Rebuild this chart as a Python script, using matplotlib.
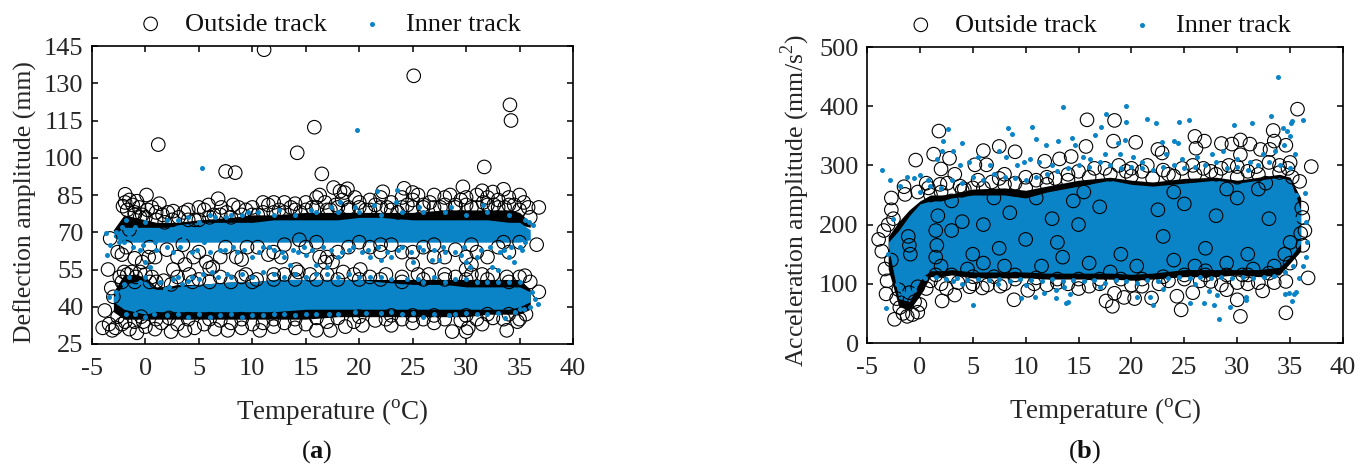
import matplotlib
matplotlib.use('Agg')
import matplotlib.pyplot as plt

plt.rcParams['font.family'] = ['Liberation Serif', 'DejaVu Serif']
plt.rcParams['mathtext.fontset'] = 'custom'
plt.rcParams['mathtext.rm'] = 'Liberation Serif'
plt.rcParams['mathtext.bf'] = 'Liberation Serif:bold'
plt.rcParams['axes.unicode_minus'] = False

BLUE = '#0a84c6'
TEXT = '#262626'

# Points, (temperature, amplitude)
a_outer = [
    (11.1,143.5),(25.1,133),(34.1,121.3),(34.2,115),(15.8,112.3),(1.2,105.3),(14.2,102),(31.7,96.3),(7.5,94.5),(8.4,94),
    (16.5,93.5),(17.6,88),(18.9,87.5),(18.2,86.5),(18.6,86),(0.1,85),(-1.9,85.3),(6.8,83.5),(29.7,88.3),(24.2,87.7),
    (33.5,87.3),(31.5,86.7),(32.5,86.2),(22.2,86.3),(25,86),
    (-2.1,80.5),(-1.9,82),(-1.7,79),(-1.5,83),(-1.2,81),(-1,78),(-0.8,82.5),(-0.6,80),(-0.3,77),(0.2,79),(0.6,80),(1,78),
    (1.3,81.5),(1.6,77),(2.1,78),(2.6,78.5),(3.1,76),(3.6,78),(4,79),(4.6,75),(5,80),(5.5,79),(5.9,81),(6.4,77),(7.1,80),
    (7.6,78),(8.2,81),(8.7,80),(9.4,79),(10,80),(10.5,77),(11,82),(11.5,81),(12,82),(12.5,79),(13,82),(13.6,80),(14,81.5),
    (14.5,78),(15,82),(15.6,80),(16,84),(16.3,85),(16.8,82),(17.3,79),(17.8,81),(18.4,83),(19,80),(19.6,84),(20,82),
    (20.6,79),(21,83),(21.5,81),(22,84),(22.6,80),(23,82),(23.6,78),(24,84),(24.5,81),(25,83),(25.5,85),(26,80),(26.6,82),
    (27,85),(27.6,80),(28,84),(28.5,85),(29,81),(29.5,83),(30,84),(30.5,80),(31,85),(31.6,82),(32,84),(32.6,81),(33,83),
    (33.6,80),(34,84),(34.5,81),(35,85),(35.4,82),(35.8,80),(36.8,80),
    (-3.3,67.5),(-2.6,62),(-2.2,61),(-1.8,64),(-1,59.5),(-0.3,58),(0.3,60),(0.9,60),(2,63),(3,60),(4.5,60),(5,62),(5.7,58),
    (6,55.5),(6.3,56),(7,60),(8.5,60),(9,59),(9.5,64),(10.5,64),(11.5,61),(12,62),(12.7,60),(14.4,67),(15,64),(16.3,60),
    (16.8,58),(17,60),(17.5,58),(18,62),(19,64),(20,66),(21,64),(22,62),(23,65),(24,62),(25,62),(26,64),(27,60),(28,60),
    (29,63),(30,60),(30.5,57),(31,62),(32,60),(33,64),(34,62),(35,66),(36.6,65),
    (-3.5,55),(2.6,55),(3.7,57),(4.1,53),(1.7,50.5),(9.4,53),(14.1,55),(20.1,55),(25,57),(30,55),(35.5,52.5),(36.8,46),
    (-3.2,47.5),(-3,44),(-3.8,38.5),
    (-2.4,52),(-2,54),(-1.7,53),(-1.3,54),(-0.9,52),(-0.5,54),(0,53),(0.6,52),(1,50),(3,52),(5,51),(7,52),(9,52),(10.4,51),
    (12,53),(13,53),(14.3,54),(15.4,53),(17,53),(18.5,54),(19.5,53),(21,52),(22.5,53),(24,52),(25.5,53),(26.5,53),(28,53),
    (29,52),(30.5,53),(31.5,53),(32.5,53),(33.8,52),(35,52),(36,50),
    (-4,31.5),(-3.4,33),(-3.1,30.5),(-2.8,31.5),(-2.2,33),(-1.5,31),(-0.8,29.5),(0,32),(0.9,31),(2.4,30),(3.7,30.5),
    (4.6,31.5),(6.5,31),(7.7,30.5),(9,31.5),(10.7,30.5),(12,32),(14,31.5),(16,30.5),(17.3,30.5),(18.7,32),(20.3,32.5),
    (23,32.5),(25,33.5),(27,33.5),(28.7,30),(30,30),(30.2,31.5),(31.5,33),(33.8,30.5),(34.8,34),(35,35),
    (-2.6,36),(-1.9,34),(-1,34),(-0.2,34),(1.5,33.5),(3,33),(5.5,33),(8,33.5),(10,33),(11,33.5),(13,33.5),(15,33),(17,34),
    (19.5,34),(21.5,34.5),(22.5,35),(24,35),(26,35),(28,35),(29.5,34.5),(31,35),(32.5,35.5),(33.5,35),(35.6,37),
    (-1,77),(0,76),(1,75),(2.5,75),(4,75),(6,76),(8,76),(9,77),(11,78),(13,78),(15,79),(17,79),(19,79),(21,79),(23,79),
    (25,80),(27,80),(29,80),(31,80),(33,80),(35,79),(36,76),(-1.5,71),(0.4,64),(3.5,65),(7.5,64),(13,65),(16,66),(22,65),
    (27,65),(30.5,65),(33.5,66),
    (-0.4,36),(1,35),(2.2,35.5),(4,35),(6,35),(7,34.5),(9,35),(12,35),(14,35),(16,35.5),(18,35.5),(20,36),(23,36.5),(25,36.5),
    (27,36.5),(30,36.5),(32,37),(34,37),(-2.2,50),(-1,50),(0.4,50),(2.4,49),(4.4,50),(6,50),(8,50),(10,50),(12,51),(14,51),
    (16,51),(18,51),(20,51),(22,51),(24,50),(26,51),(28,51),(30,51),(32,51),(34,50),(-0.5,76),(1.8,74),(5,75),(7,77),(10,77),
    (12,78),(14,79),(16,80),(18,80),(20,80),(22,80),(24,80),(26,81),(28,81),(30,81),(32,81),(34,81),
]
a_inner = [
    (5.3,95.7),(19.8,111),(21.7,86.6),(23.5,87),(-3.7,69.5),(-3.6,61),(-3.3,65),(-2.8,70),(-2.5,66),(-2.2,72),(-1.8,75),
    (-1.5,68),(-1,72),(-0.5,63),(0,58),(0.4,56),(0.9,66),(1.5,70),(2,64),(3,75),(3.6,68),(4.4,62),(5,74),(5.5,66),(6.5,76),
    (7,63),(8,77),(8.6,62),(9.6,78),(10,60),(11,64),(12,63),(12.5,79),(13,60),(13.5,57),(14.3,62),(15,61),(15.5,79),
    (16,57),(16.6,64),(17,56),(17.4,80),(18,60),(18.2,82),(19,63),(19.6,80),(20.3,62),(21,60),(21.4,81),(22,59),(23,60),
    (23.4,82),(24,64),(25,58),(25.6,80),(26,63),(26.8,59),(27.5,59),(28,62),(28.6,80),(29.5,61),(30,58),(30.4,56),(31,60),
    (31.6,81),(32.4,56),(33,55),(33.5,63),(34,60),(34.5,58),(35,64),(35.5,66),(35.9,74),(36.3,73),
    (-3.4,44),(-2.8,46),(-2,49),(-1.5,52),(-1,46),(-0.5,50),(0,52),(1.2,39),(1.8,47),(2.6,51),(3.4,49),(4.4,52),(5.4,53),
    (6.2,54),(6.8,52),(7.6,53),(8,37),(9,53),(10,36.5),(11,54),(12,37),(13,52),(15,37),(16,53),(17.2,37),(18,52),(19.6,38),
    (21,52),(23,38),(24.5,51),(26,36),(27,52),(28.4,36.5),(30,51),(31,37),(32,50),(33.6,35.5),(34.6,38),(35.4,39),(36,40),
    (36.4,43),(36.7,41),(36.2,46),
    (-2,66),(-1.2,64),(-0.2,65),(1,63),(2.6,62),(3.2,64),(4.8,63),(6,62),(7.4,63),(8.2,64),(9.2,63),(10.6,62),(11.6,64),
    (12.8,62),(13.8,63),(14.8,64),(15.6,63),(17.4,63),(18.4,62),(19.4,64),(20.8,63),(21.8,64),(22.6,62),(23.6,63),(24.8,62),
    (25.6,64),(27,63),(27.8,64),(29,62),(29.8,64),(31.4,63),(32.2,64),(33.2,62),(34.2,64),(35.2,63),(0,74),(2,75),(4,76),
    (6,77),(7.5,76),(9,77),(10.5,78),(12,77),(14,77),(16,78),(18,78),(20,78),(22,77),(24,78),(26,78),(28,78),(30,77),(32,78),
    (34,77),(35.5,75),
    (-1.8,37),(-1,37),(0,36),(0.8,37),(2,36.5),(3,37),(4,36),(5,37),(6,36),(7,36.5),(9,36),(11,36.5),(13,37),(14,36.5),(16,37),
    (18,37),(20.6,37.5),(22,37.5),(24,37),(25,37.5),(27,37),(29,37),(30,37.5),(32,37),(33,37.5),(35,39),
    (1.4,50),(2.2,48),(3,52),(4,50.5),(5,51),(8,52),(10,52),(12,53),(14,53),(15,52),(17,53),(19,53),(20,52),(22,52),(23,51),
    (25.5,51),(26,50),(28,50),(29,51),(31,50),(33,50),(34,50),(35,50),
]
b_outer = [
    (35.7,395),(15.8,377),(18.4,376),(1.8,358),(26,349),(26.9,341),(30.3,343),(33.4,359),(33.5,341),(34.6,334),(31.2,336),
    (28.5,337),(29.5,336),(18.3,341),(20.4,339),(15.7,332),(7.5,332),(9,323),(6,325),(1.3,319),(-0.4,309),(2.8,312),(2,294),
    (5.2,301),(6.3,301),(11.8,307),(13.2,311),(14.3,315),(22.5,327),(22.9,321),(26.1,329),(32.2,327),(33.1,327),(30.3,318),
    (-2.7,245),(-1.5,264),(-1.4,251),(0.6,270),(1.9,268),(-2.7,225),(37,298),
    (2.1,71),(3.3,81),(2.5,92),(8.9,73),(17.6,71),(18.2,62),(19.3,77),(20.3,75),(21.9,76),(24.3,79),(24.7,56),(25.8,85),
    (30,73),(30.3,45),(34.6,51),(32.4,88),(36.7,110),(29,90),(18.4,84),(-2.4,40),(0.6,92),(15,92),(10.2,89),(4.7,95),(5.9,93),
    (-3.9,175),(-3.6,155),(-3.4,190),(-3.3,125),(-3.1,105),(-3.2,83),(-3,200),(-2.7,140),(-2.5,210),(-2.2,75),(-1.9,60),
    (-1.6,50),(-1.2,45),(-0.7,48),(-0.2,52),(0,65),(-0.5,70),(36,185),(36.2,165),(36.4,190),(36.1,228),(36.2,212),(35.9,273),
    (-1,165),(-0.9,150),(-1.1,180),(1.5,190),(1.6,165),(1.5,145),(1.7,215),(3,240),(4,205),(5,150),(6,135),(7.5,160),(8.5,220),
    (10,175),(11.5,130),(12.5,210),(13.5,145),(14.5,240),(16,135),(17,230),(20.5,130),(22.5,225),(24,140),(25,235),(27,160),
    (28,215),(29,135),(30.5,115),(31.5,125),(32,260),(33.5,130),(34.5,150),(23.5,285),(24.8,295),(27.5,290),(29.2,300),
    (31,290),(32.7,270),(34,300),(35,305),(20,295),(21.5,300),(16.5,295),(12,280),(10,280),(8,285),(4.2,260),(3.3,285),
    (-0.2,255),(0.8,262),(2.6,270),(3.8,265),(5.5,275),(6.8,272),(7.5,278),(9,270),(11,275),(12.8,278),(14,285),(15,290),
    (17.5,295),(18.8,300),(19.5,290),(21,290),(23,292),(25.8,300),(26.8,295),(28.5,295),(30,298),(31.8,298),(33,305),(34.8,295),
    (1,105),(2,100),(3.6,102),(5,100),(6.4,98),(7.6,96),(8,100),(10.8,100),(12,98),(13,102),(14,100),(16,96),(17,100),(20,98),
    (21,96),(22.6,100),(23.5,105),(25,108),(26.5,105),(27.5,104),(28.5,98),(30,102),(31,100),(32,102),(33.5,102),(34.6,104),
    (3,190),(6,200),(8,130),(11,245),(13,170),(15,200),(19,150),(23,180),(26,130),(29,260),(31,150),(33,210),(35,170),(2,130),
    (4.5,125),(9,115),(18,120),(27,122),(24,255),(30,245),(7,245),(15.5,255),
    (1,250),(2,255),(4,258),(5,262),(6,262),(8,268),(10,262),(12,268),(14,275),(16,280),(18,285),(20,282),(22,278),(24,282),
    (26,285),(28,285),(30,280),(32,285),(34,288),(35.2,280),(1.5,115),(3,115),(5,112),(7,112),(9,108),(11,110),(13,108),(15,108),
    (17,108),(19,108),(21,108),(23,112),(25,115),(27,115),(29,115),(31,115),(33,118),(35,135),(-2,90),(-1,85),(-0.2,95),
]
b_inner = [
    (33.9,450),(19.5,400),(13.5,398),(17.6,387),(19.5,373),(21.5,379),(22.3,371),(24.5,374),(25.4,377),(29.7,368),(31.4,372),
    (33.2,383),(34.3,363),(35.2,375),(36.2,377),(8.3,364),(8.7,353),(10.6,365),(11,344),(2.7,362),(2.2,342),(-3.6,293),
    (17.1,365),(16.6,352),(14.4,347),(13.1,341),(11.9,335),(4,338),(22.9,339),(24.4,338),(24,342),(34.7,358),(35,349),
    (35.1,372),(19.4,343),(18.7,338),
    (5,64),(9.6,76),(10.9,77),(12.9,76),(13.8,67),(14,70),(14.2,82),(20.5,77),(21.8,78),(22,64),(25.5,68),(26.9,68),(27.8,65),
    (28.3,41),(29.3,60),(28.1,81),(27.3,88),(30.8,72),(30.8,77),(34.5,83),(34.9,84),(35.2,71),(35.6,86),(-3.2,59),(35.4,82),
    (11.7,85),(12.9,89),(13.6,95),
    (-2.8,275),(-1.9,265),(-1.2,280),(-0.6,278),(0,283),(0.8,275),(1.6,310),(2.1,325),(3.1,325),(3.8,300),(4.6,305),(5.5,315),
    (6.6,300),(7.5,325),(8.1,315),(9.2,300),(9.8,305),(10.4,310),(11.3,305),(12.5,300),(14.7,335),(15.4,315),(16.1,310),
    (17.5,320),(18.9,320),(20.1,315),(21,305),(23.3,320),(24.8,310),(26.2,315),(27.6,320),(28.7,325),(30,310),(31.2,305),
    (32.4,320),(33.6,325),(34.4,335),(35.5,320),(36.4,253),(36.5,205),(36.6,170),(36.5,145),(36.2,130),(35.8,110),(3.1,105),
    (4,100),(7.4,100),(10,98),(17,95),(23,92),(26,100),(-2.5,210),(-3,150),(-2.2,100),(-1.6,85),(-0.6,90),
    (0,255),(1,265),(2,262),(3,275),(4,270),(5,280),(6,275),(7,285),(8,280),(9,278),(10,275),(11,280),(12,285),(13,290),(14,295),
    (15,300),(16,298),(17,305),(18,300),(19,295),(20,298),(21,295),(22,292),(23,298),(24,300),(25,295),(26,298),(27,300),(28,305),
    (29,295),(30,298),(31,292),(32,300),(33,305),(34,300),(35,295),(0.5,110),(1.5,112),(2.5,108),(3.5,110),(4.5,106),(5.5,108),
    (6.5,106),(7.5,108),(8.5,104),(9.5,108),(10.5,106),(11.5,104),(12.5,108),(13.5,104),(14.5,106),(15.5,104),(16.5,106),(17.5,102),
    (18.5,106),(19.5,104),(20.5,102),(21.5,106),(22.5,104),(23.5,110),(24.5,112),(25.5,110),(26.5,112),(27.5,110),(28.5,112),
    (29.5,110),(30.5,112),(31.5,110),(32.5,112),(33.5,114),(34.5,120),(35.3,130),(35.6,250),(35.5,210),
]

temp_grid = [-3, -2, -1, 0, 1, 2, 3, 5, 8, 10, 12, 15, 18, 20, 22, 25, 28, 30, 32, 34, 35, 36]

# Parts of the clouds so saturated that single points cannot be read: edges only
a_low_black_lo = [38, 35, 35, 35, 35, 35, 35, 35, 35, 35, 35, 35, 36, 36, 36, 36, 36, 36, 37, 37, 37, 39]
a_low_black_hi = [46, 53, 53, 52, 48, 48, 49, 49, 50, 50, 51, 51, 51, 51, 51, 51, 51, 51, 51, 51, 51, 47]
a_low_blue_lo = [42, 39, 38, 37, 38, 38, 38, 38, 38, 38, 38, 39, 39, 39, 39, 39, 39, 39, 39, 39, 40, 42]
a_low_blue_hi = [44, 49, 50, 51, 47, 47, 48, 49, 50, 50, 51, 51, 51, 51, 50, 49, 49, 48, 48, 48, 48, 46]
a_up_black_lo = [70, 70, 70, 70, 70, 70, 71, 71, 72, 72, 72, 73, 73, 73, 73, 73, 73, 73, 73, 73, 73, 72]
a_up_black_hi = [71, 77, 76, 75, 74, 74, 74, 75, 76, 77, 77, 78, 78, 78, 78, 78, 79, 79, 79, 79, 78, 74]
a_up_blue_lo = [68, 66, 66, 66, 66, 66, 66, 66, 66, 66, 66, 66, 66, 66, 66, 66, 66, 66, 66, 66, 66, 67]
a_up_blue_hi = [69, 72, 72, 72, 72, 72, 73, 74, 74, 74, 75, 75, 75, 76, 76, 75, 75, 75, 75, 74, 74, 71]
b_black_lo = [125, 62, 55, 80, 112, 112, 115, 110, 110, 110, 108, 108, 108, 106, 108, 112, 112, 115, 112, 115, 135, 155]
b_black_hi = [180, 205, 225, 240, 250, 250, 252, 260, 262, 258, 265, 275, 280, 275, 272, 278, 280, 275, 280, 285, 280, 245]
b_blue_lo = [165, 75, 70, 105, 122, 122, 124, 120, 120, 120, 118, 118, 118, 116, 118, 124, 124, 124, 124, 128, 145, 168]
b_blue_hi = [170, 190, 215, 235, 240, 240, 245, 250, 250, 245, 255, 265, 275, 268, 265, 270, 275, 270, 275, 280, 275, 225]

x_ticks = [-5, 0, 5, 10, 15, 20, 25, 30, 35, 40]
a_ticks = [25, 40, 55, 70, 85, 100, 115, 130, 145]
b_ticks = [0, 100, 200, 300, 400, 500]


def draw_panel(ax, outer, inner, black_bands, blue_bands, y_ticks, y_label, legend_x, label_y):
    for lo, hi in black_bands:
        ax.fill_between(temp_grid, lo, hi, color='black', lw=0, zorder=1)
    for lo, hi in blue_bands:
        ax.fill_between(temp_grid, lo, hi, color=BLUE, lw=0, zorder=2)
    ox, oy = zip(*outer)
    ix, iy = zip(*inner)
    ax.scatter(ox, oy, s=95, facecolors='none', edgecolors='black', linewidths=0.8,
               zorder=3, label='Outside track')
    ax.scatter(ix, iy, s=13, color=BLUE, linewidths=0, zorder=4, label='Inner track')
    ax.set_xlim(-5, 40)
    ax.set_ylim(y_ticks[0], y_ticks[-1])
    ax.set_xticks(x_ticks)
    ax.set_yticks(y_ticks)
    ax.tick_params(direction='in', top=True, right=True, length=4.5, width=1.1,
                   labelsize=19, labelcolor=TEXT, pad=6)
    ax.tick_params(axis='x', pad=10)
    for s in ax.spines.values():
        s.set_linewidth(1.2)
    ax.set_xlabel(r'Temperature ($^{\mathrm{o}}$C)', fontsize=19.5, color=TEXT, labelpad=12)
    ax.set_ylabel(y_label, fontsize=18.5, color=TEXT, labelpad=5, y=label_y)
    ax.legend(loc='lower center', bbox_to_anchor=(legend_x, 0.99), ncol=2, frameon=False, fontsize=19,
              columnspacing=1.1, handletextpad=0.7, handlelength=1.2, borderpad=0, labelcolor='#111111')


fig = plt.figure(figsize=(13.67, 4.68), dpi=100)
W, H = 1367, 468
ax1 = fig.add_axes([92 / W, 1 - 344 / H, 481 / W, 298 / H])
ax2 = fig.add_axes([867 / W, 1 - 343 / H, 476 / W, 296 / H])

draw_panel(ax1, a_outer, a_inner,
           [(a_low_black_lo, a_low_black_hi), (a_up_black_lo, a_up_black_hi)],
           [(a_low_blue_lo, a_low_blue_hi), (a_up_blue_lo, a_up_blue_hi)],
           a_ticks, 'Deflection amplitude (mm)', 0.49, 0.475)
draw_panel(ax2, b_outer, b_inner, [(b_black_lo, b_black_hi)], [(b_blue_lo, b_blue_hi)],
           b_ticks, r'Acceleration amplitude (mm/s$^{2}$)', 0.485, 0.48)

fig.text(317 / W, 1 - 452 / H, r'($\mathbf{a}$)', ha='center', va='center', fontsize=19, color='#111111')
fig.text(1085 / W, 1 - 452 / H, r'($\mathbf{b}$)', ha='center', va='center', fontsize=19, color='#111111')

fig.savefig('out.png', dpi=100)
